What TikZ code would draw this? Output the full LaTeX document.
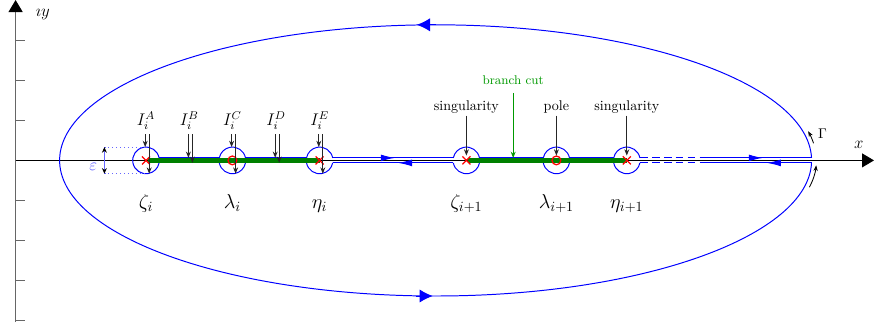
\documentclass[tikz,border=0pt]{standalone}
\usetikzlibrary{arrows.meta}
\tikzset{
  keyhole/.style={blue, line width=0.7pt},
  flowtip/.style={blue, line width=0.7pt, -{Latex[length=0.35cm,width=0.17cm]}},
  pointer/.style={black!85, line width=0.75pt, -{Stealth[length=4.5pt,width=3.5pt]}},
  cross/.style={red, line width=0.9pt},
}
\begin{document}
\begin{tikzpicture}[x=1cm,y=1cm]
\useasboundingbox (-0.39,-4.21) rectangle (21.46,4.01);
\def\eps{0.0625}
% axes
\draw[black!60, line width=0.8pt, -{Triangle[black,length=0.3cm,width=0.35cm]}] (0,-4.04) -- (0,4.01);
\foreach \t in {-4,-3,-2,-1,1,2,3}
  \draw[black!60, line width=0.8pt] (0,\t) -- (0.23,\t);
\draw[black, line width=0.7pt, -{Triangle[length=0.3cm,width=0.35cm]}] (0,0) -- (21.46,0);
\node[font=\large, anchor=base] (xlab) at (21.08,0.31) {$x$};
\node[font=\large, anchor=base] (ylab) at (0.68,3.61) {$\imath y$};
% big contour
\draw[keyhole] (19.898,\eps) arc[start angle=1.06, end angle=358.94, x radius=9.4, y radius=3.39];
\draw[flowtip, -{Latex[length=0.33cm,width=0.33cm]}] (10.5,3.39) -- (10.03,3.39);
\draw[flowtip, -{Latex[length=0.33cm,width=0.33cm]}] (10.0,-3.39) -- (10.43,-3.39);
% keyhole lines
\foreach \a/\b in {3.587/5.093, 5.747/7.273, 7.927/10.943, 11.597/13.193, 13.847/14.953, 17.1/19.898}
  \draw[keyhole] (\a,\eps) -- (\b,\eps) (\a,-\eps) -- (\b,-\eps);
\draw[keyhole, dash pattern=on 5.5pt off 3pt] (15.607,\eps) -- (17.1,\eps) (15.607,-\eps) -- (17.1,-\eps);
\draw[flowtip] (9.1,\eps) -- (9.48,\eps);
\draw[flowtip] (9.9,-\eps) -- (9.56,-\eps);
\draw[flowtip] (18.3,\eps) -- (18.68,\eps);
\draw[flowtip] (19.1,-\eps) -- (18.78,-\eps);
% small circles
\draw[keyhole] (3.26,0) ++(10.8:0.333) arc[start angle=10.8, end angle=349.2, radius=0.333];
\foreach \c in {5.42,7.6,11.27,13.52,15.28}{
  \draw[keyhole] (\c,0) ++(10.8:0.333) arc[start angle=10.8, end angle=169.2, radius=0.333];
  \draw[keyhole] (\c,0) ++(190.8:0.333) arc[start angle=190.8, end angle=349.2, radius=0.333];
}
% branch cuts
\draw[green!50!black, line width=3pt] (3.31,0) -- (7.6,0);
\draw[green!50!black, line width=3pt] (11.32,0) -- (15.28,0);
% singularities and poles
\foreach \c in {3.26,7.6,11.27,15.28}
  \draw[cross] (\c-0.1,-0.1) -- (\c+0.1,0.1) (\c-0.1,0.1) -- (\c+0.1,-0.1);
\foreach \c in {5.42,13.52}
  \draw[cross] (\c,0) circle[radius=0.11];
% epsilon
\draw[blue!60, dotted, line width=0.8pt] (2.22,0.333) -- (3.26,0.333) (2.22,-0.333) -- (3.26,-0.333);
\draw[blue!60, line width=1pt, {Stealth[black,length=4pt,width=3.5pt]}-{Stealth[black,length=4pt,width=3.5pt]}] (2.22,-0.333) -- (2.22,0.333);
\node[blue!70, font=\large, anchor=base] (epslab) at (1.94,-0.26) {$\varepsilon$};
% point labels
\node[font=\Large, anchor=base] (zi) at (3.26,-1.19) {$\zeta_i$};
\node[font=\Large, anchor=base] (li) at (5.42,-1.19) {$\lambda_i$};
\node[font=\Large, anchor=base] (ei) at (7.6,-1.19) {$\eta_i$};
\node[font=\Large, anchor=base] (zj) at (11.27,-1.19) {$\zeta_{i+1}$};
\node[font=\Large, anchor=base] (lj) at (13.52,-1.19) {$\lambda_{i+1}$};
\node[font=\Large, anchor=base] (ej) at (15.28,-1.19) {$\eta_{i+1}$};
% integrals
\foreach \x/\s/\r in {3.26/A/0.333, 4.34/B/\eps, 5.42/C/0.333, 6.51/D/\eps, 7.6/E/0.333}{
  \node[font=\large, anchor=base, inner sep=0.5pt] (I\s) at (\x,0.87) {$I_i^{\s}$};
  \draw[pointer] (\x-0.02,0.66) -- (\x-0.02,\r);
  \draw[pointer] (\x+0.08,0.66) -- (\x+0.08,-\r);
}
% annotations
\node[anchor=base] (sing1) at (11.27,1.26) {singularity};
\node[anchor=base] (pole) at (13.52,1.26) {pole};
\node[anchor=base] (sing2) at (15.28,1.26) {singularity};
\draw[pointer] (11.27,1.12) -- (11.27,0.12);
\draw[pointer] (13.52,1.12) -- (13.52,0.12);
\draw[pointer] (15.28,1.12) -- (15.28,0.12);
\node[green!60!black, font=\small, anchor=base] (cut) at (12.44,1.89) {branch cut};
\draw[pointer, green!60!black] (12.44,1.69) -- (12.44,0.06);
% orientation of Gamma
\draw[black, line width=0.6pt, -{Stealth[length=4pt,width=3pt]}] (10.5,0) ++(7:9.52 and 3.51) arc[start angle=7, end angle=12, x radius=9.52, y radius=3.51];
\draw[black, line width=0.6pt, -{Stealth[length=4pt,width=3pt]}] (10.5,0) ++(-11:9.52 and 3.51) arc[start angle=-11, end angle=-2, x radius=9.52, y radius=3.51];
\node[anchor=base] (gam) at (20.17,0.56) {$\Gamma$};
\end{tikzpicture}
\end{document}
